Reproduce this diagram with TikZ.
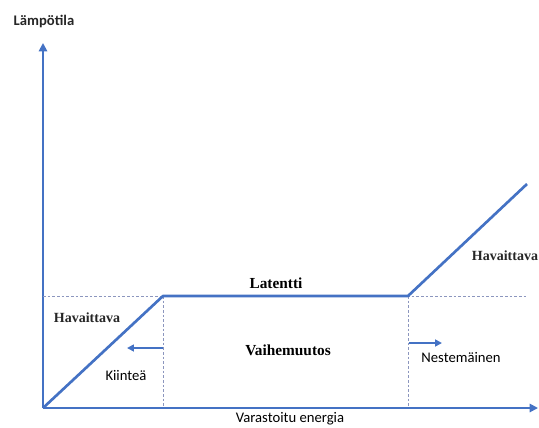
\documentclass[tikz,border=0pt]{standalone}
\usepackage{fontspec}
\setmainfont{Liberation Serif}
\newfontfamily\calibri{Carlito}
\usetikzlibrary{arrows.meta,positioning}
\definecolor{lineblue}{RGB}{68,114,196}
\definecolor{guide}{RGB}{140,150,190}

\begin{document}
\begin{tikzpicture}[
    x=0.75pt, y=-0.75pt,
    axis/.style={draw=lineblue, line width=1.4pt, -{Triangle[length=2.2mm, width=2.2mm]}},
    curve/.style={draw=lineblue, line width=2pt, line join=round},
    guideline/.style={draw=guide, line width=0.5pt, dash pattern=on 2pt off 1.5pt},
    small/.style={draw=lineblue, line width=1.4pt, -{Triangle[length=1.8mm, width=1.8mm]}},
    lbl/.style={font=\calibri\fontsize{11}{13}\selectfont, inner sep=0pt},
    tag/.style={font=\bfseries\fontsize{10.5}{12}\selectfont, text=black!85, inner sep=0pt},
    bigtag/.style={font=\bfseries\fontsize{11.5}{13}\selectfont, inner sep=0pt},
  ]
  \useasboundingbox (0,0) rectangle (539,428);

  % axes
  \coordinate (O) at (43,408);
  \coordinate (ytop) at (43,43);
  \coordinate (xend) at (538,408);
  \draw[axis] (O) -- (ytop);
  \draw[axis] (O) -- (xend);
  \node[lbl, font=\calibri\bfseries\fontsize{11}{13}\selectfont, text=black!85] (ylab) at (44,21) {Lämpötila};
  \node[lbl] (xlab) at (290,419) {Varastoitu energia};

  % curve
  \coordinate (melt) at (163,296);
  \coordinate (done) at (408,296);
  \coordinate (high) at (527,184);
  \coordinate (ref) at (527,296);
  \coordinate (yref) at (43,296);
  \coordinate (meltb) at (163,408);
  \coordinate (doneb) at (408,408);
  \draw[guideline] (yref) -- (ref);
  \draw[guideline] (melt) -- (meltb);
  \draw[guideline] (done) -- (doneb);
  \draw[curve] (O) -- (melt) -- (done) -- (high);

  % phase arrows
  \coordinate (sa) at (163,348);
  \coordinate (sb) at (127,348);
  \coordinate (la) at (409,343);
  \coordinate (lb) at (442,343);
  \draw[small] (sa) -- (sb);
  \draw[small] (la) -- (lb);

  % labels
  \node[bigtag] (lat) at (276,283) {Latentti};
  \node[bigtag] (vaihe) at (288,350) {Vaihemuutos};
  \node[tag] (hav1) at (87,318) {Havaittava};
  \node[tag] (hav2) at (505,256) {Havaittava};
  \node[lbl] (kiinte) at (126,376) {Kiinteä};
  \node[lbl] (neste) at (461,358) {Nestemäinen};
\end{tikzpicture}
\end{document}
